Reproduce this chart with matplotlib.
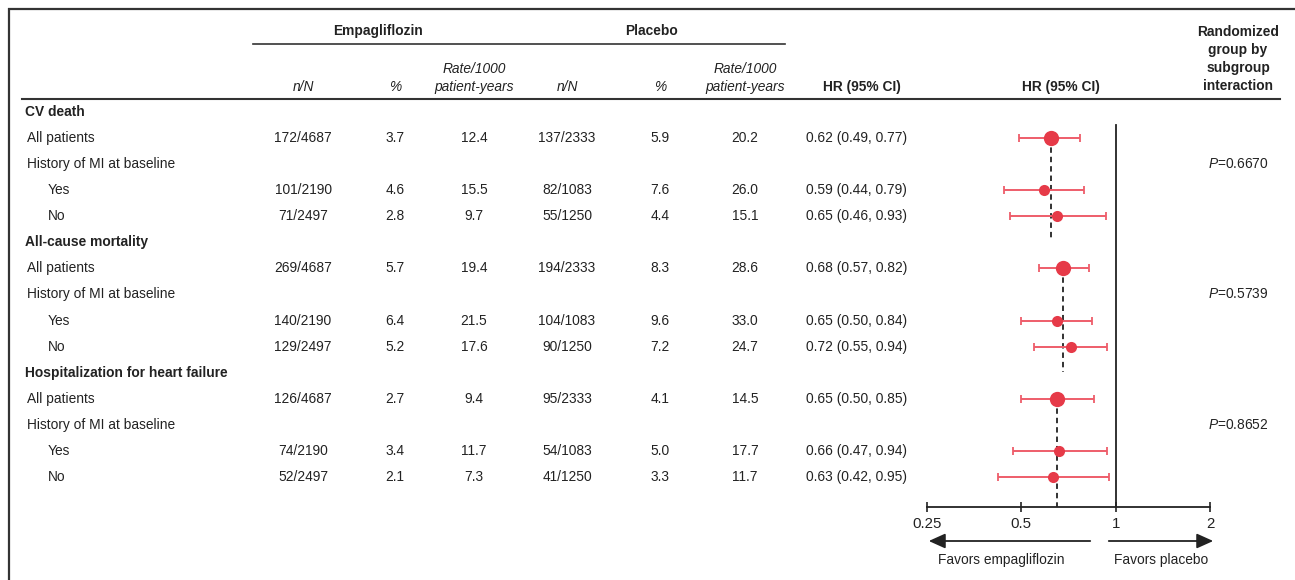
import numpy as np
import matplotlib
matplotlib.use("Agg")
import matplotlib.pyplot as plt

plt.rcParams['font.family'] = ['Liberation Sans', 'DejaVu Sans']
plt.rcParams['mathtext.fontset'] = 'custom'
plt.rcParams['mathtext.it'] = 'Liberation Sans:italic'
plt.rcParams['mathtext.rm'] = 'Liberation Sans'

# outcomes and subgroup rows
outcomes = ["CV death", "All-cause mortality", "Hospitalization for heart failure"]
subgroups = ["All patients", "History of MI at baseline", "Yes", "No"]

# empagliflozin arm (All, Yes, No for each outcome)
emp_n = [172, 101, 71, 269, 140, 129, 126, 74, 52]
emp_N = [4687, 2190, 2497, 4687, 2190, 2497, 4687, 2190, 2497]
emp_pct = [3.7, 4.6, 2.8, 5.7, 6.4, 5.2, 2.7, 3.4, 2.1]
emp_rate = [12.4, 15.5, 9.7, 19.4, 21.5, 17.6, 9.4, 11.7, 7.3]

# placebo arm
pbo_n = [137, 82, 55, 194, 104, 90, 95, 54, 41]
pbo_N = [2333, 1083, 1250, 2333, 1083, 1250, 2333, 1083, 1250]
pbo_pct = [5.9, 7.6, 4.4, 8.3, 9.6, 7.2, 4.1, 5.0, 3.3]
pbo_rate = [20.2, 26.0, 15.1, 28.6, 33.0, 24.7, 14.5, 17.7, 11.7]

# hazard ratios
hr = [0.62, 0.59, 0.65, 0.68, 0.65, 0.72, 0.65, 0.66, 0.63]
hr_lo = [0.49, 0.44, 0.46, 0.57, 0.50, 0.55, 0.50, 0.47, 0.42]
hr_hi = [0.77, 0.79, 0.93, 0.82, 0.84, 0.94, 0.85, 0.94, 0.95]

p_interaction = ["0.6670", "0.5739", "0.8652"]

xticks = [0.25, 0.5, 1, 2]
xticklabels = ["0.25", "0.5", "1", "2"]

W, H = 1295, 580
fig = plt.figure(figsize=(W / 100, H / 100), dpi=100)
fig.patch.set_facecolor('white')

# canvas in pixel units for the table part
ax = fig.add_axes([0, 0, 1, 1])
ax.set_xlim(0, W)
ax.set_ylim(H, 0)
ax.axis('off')

ink = '#222222'
fs = 9.9
red = '#e63a48'
red_ci = '#ee5d6a'

# frame
ax.plot([8.5, 8.5], [8, H], color='#333333', lw=1.6, solid_capstyle='butt')
ax.plot([8, W], [8.5, 8.5], color='#333333', lw=1.6, solid_capstyle='butt')

# header
ax.text(378, 31, "Empagliflozin", ha='center', va='center', fontsize=fs, fontweight='bold', color=ink)
ax.text(652, 31, "Placebo", ha='center', va='center', fontsize=fs, fontweight='bold', color=ink)
ax.plot([253, 785], [44, 44], color='#333333', lw=1.2)

col_x = [303, 395, 474, 567, 660, 745]
for k, cx in enumerate(col_x):
    if k % 3 == 0:
        ax.text(cx, 87, "n/N", ha='center', va='center', fontsize=fs, style='italic', color=ink)
    elif k % 3 == 1:
        ax.text(cx, 87, "%", ha='center', va='center', fontsize=fs, style='italic', color=ink)
    else:
        ax.text(cx, 69, "Rate/1000", ha='center', va='center', fontsize=fs, style='italic', color=ink)
        ax.text(cx, 87, "patient-years", ha='center', va='center', fontsize=fs, style='italic', color=ink)

ax.text(862, 87, "HR (95% CI)", ha='center', va='center', fontsize=fs, fontweight='bold', color=ink)
ax.text(1061, 87, "HR (95% CI)", ha='center', va='center', fontsize=fs, fontweight='bold', color=ink)
for j, line in enumerate(["Randomized", "group by", "subgroup", "interaction"]):
    ax.text(1238, 32 + 18 * j, line, ha='center', va='center', fontsize=fs, fontweight='bold', color=ink)
ax.plot([22, 1280], [98.5, 98.5], color='#333333', lw=1.5)

# table rows
row0, dy = 112, 26.07
row_y = []  # y of the data rows (All, Yes, No) in order
hist_y = []
all_y = []
for g, name in enumerate(outcomes):
    base = g * 5
    ax.text(25, row0 + dy * base, name, ha='left', va='center', fontsize=fs, fontweight='bold', color=ink)
    for s, lab in enumerate(subgroups):
        y = row0 + dy * (base + 1 + s)
        indent = 48 if lab in ("Yes", "No") else 27
        ax.text(indent, y, lab, ha='left', va='center', fontsize=fs, color=ink)
        if s == 1:
            hist_y.append(y)
        else:
            row_y.append(y)
            if s == 0:
                all_y.append(y)

for i, y in enumerate(row_y):
    vals = [f"{emp_n[i]}/{emp_N[i]}", f"{emp_pct[i]:.1f}", f"{emp_rate[i]:.1f}",
            f"{pbo_n[i]}/{pbo_N[i]}", f"{pbo_pct[i]:.1f}", f"{pbo_rate[i]:.1f}"]
    for cx, v in zip(col_x, vals):
        ax.text(cx, y, v, ha='center', va='center', fontsize=fs, color=ink)
    ax.text(806, y, f"{hr[i]:.2f} ({hr_lo[i]:.2f}, {hr_hi[i]:.2f})",
            ha='left', va='center', fontsize=fs, color=ink)

for y, p in zip(hist_y, p_interaction):
    ax.text(1238, y, "$P$=" + p, ha='center', va='center', fontsize=fs, color=ink)

# forest plot panel
x0, x1 = 927, 1210
y_top, y_axis = 100, 507
fax = fig.add_axes([x0 / W, (H - y_axis) / H, (x1 - x0) / W, (y_axis - y_top) / H])
fax.set_xscale('log', base=2)
fax.set_xlim(0.25, 2)
fax.set_ylim(y_axis, y_top)
fax.patch.set_alpha(0)
for sp in ['top', 'right', 'left']:
    fax.spines[sp].set_visible(False)
fax.spines['bottom'].set_color(ink)
fax.spines['bottom'].set_linewidth(1.3)
fax.set_yticks([])
fax.set_xticks(xticks)
fax.set_xticklabels(xticklabels, fontsize=10.8, color=ink)
fax.xaxis.set_minor_locator(matplotlib.ticker.NullLocator())
fax.tick_params(axis='x', direction='inout', length=7, width=1.2, color=ink, pad=4)

fax.plot([1, 1], [125, y_axis], color=ink, lw=1.3, zorder=2)

for g in range(3):
    i_all = g * 3
    y_start = all_y[g]
    y_end = y_axis if g == 2 else row_y[i_all + 2] + 25
    fax.plot([hr[i_all], hr[i_all]], [y_start, y_end], color=ink, lw=1.3,
             dashes=(3, 2.2), zorder=2)

for i, y in enumerate(row_y):
    fax.errorbar(hr[i], y, xerr=[[hr[i] - hr_lo[i]], [hr_hi[i] - hr[i]]],
                 fmt='none', ecolor=red_ci, elinewidth=1.4, capsize=3, capthick=1.3, zorder=3)
    ms = 11 if i % 3 == 0 else 8
    fax.plot(hr[i], y, 'o', color=red, markersize=ms, markeredgewidth=0, zorder=4)

# direction arrows
ax.annotate("", xy=(926, 541), xytext=(1093, 541),
            arrowprops=dict(arrowstyle='-|>,head_length=1.0,head_width=0.45', color=ink, lw=1.3))
ax.annotate("", xy=(1216, 541), xytext=(1106, 541),
            arrowprops=dict(arrowstyle='-|>,head_length=1.0,head_width=0.45', color=ink, lw=1.3))
ax.text(1001, 560, "Favors empagliflozin", ha='center', va='center', fontsize=fs, color=ink)
ax.text(1161, 560, "Favors placebo", ha='center', va='center', fontsize=fs, color=ink)

fig.savefig("out.png", dpi=100, facecolor='white')
